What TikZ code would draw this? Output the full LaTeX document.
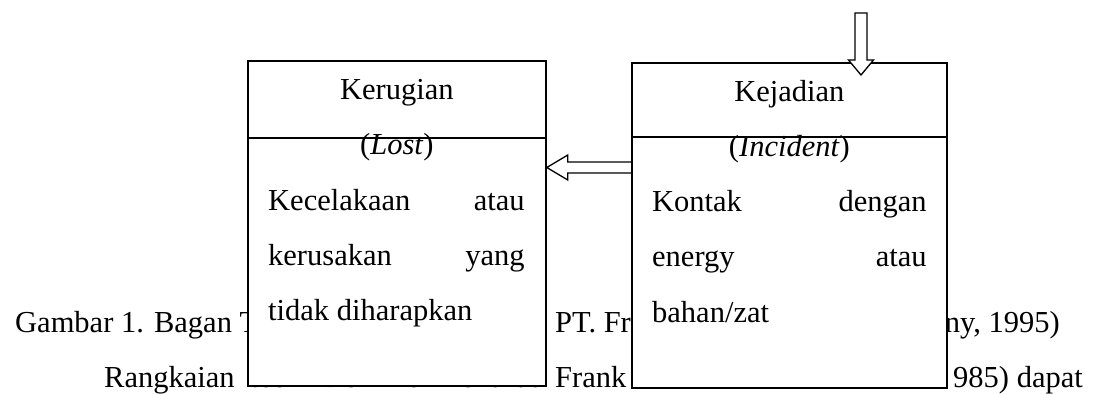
\documentclass[tikz,border=0pt]{standalone}
\usepackage{fontspec}
\setmainfont{Liberation Serif}
\usetikzlibrary{calc}

\tikzset{
  txt/.style={inner sep=0pt, font=\fontsize{30.5}{36}\selectfont},
  panel/.style={draw, line width=1.8pt, fill=white, inner sep=0pt, anchor=north west},
  divider/.style={line width=1.8pt},
  hollow/.style={draw, line width=1.3pt, line join=miter},
}

\begin{document}
\begin{tikzpicture}[x=1pt,y=-1pt]
\useasboundingbox (0,0) rectangle (1093,395);

% running text of the page, partly covered by the two panels
\node[txt, anchor=base west] (cap1) at (15,333) {Gambar 1. Bagan T};
\node[txt, anchor=base west] (cap2) at (555,333) {PT. Fr};
\node[txt, anchor=base east] (cap3) at (1060,333) {ny, 1995)};
\node[txt, anchor=base west] (par1) at (104,388) {Rangkaian};
\node[txt, anchor=base west] (par2) at (250,388) {teori};
\node[txt, anchor=base west] (par3) at (321.5,388) {Domino};
\node[txt, anchor=base west] (par4) at (437,388) {menurut};
\node[txt, anchor=base west] (par5) at (555,388) {Frank};
\node[txt, anchor=base east] (par6) at (1083,388) {985) dapat};

% the two panels
\node[panel, minimum width=298pt, minimum height=325pt] (loss) at (247,60) {};
\node[panel, minimum width=315pt, minimum height=325pt] (inc) at (631,62) {};
\draw[divider] ($(loss.north west)+(0,78)$) -- ($(loss.north east)+(0,78)$);
\draw[divider] ($(inc.north west)+(0,75)$) -- ($(inc.north east)+(0,75)$);

% panel headings
\node[txt, anchor=base] (lossT) at ($(loss.north)+(0,40)$) {Kerugian};
\node[txt, anchor=base] (lossS) at ($(loss.north)+(0,95)$) {(\textit{Lost})};
\node[txt, anchor=base] (incT) at ($(inc.north)+(0,40)$) {Kejadian};
\node[txt, anchor=base] (incS) at ($(inc.north)+(0,95)$) {(\textit{Incident})};

% panel bodies (justified lines)
\node[txt, anchor=base west] (l1a) at ($(loss.north west)+(21,151)$) {Kecelakaan};
\node[txt, anchor=base east] (l1b) at ($(loss.north east)+(-22,151)$) {atau};
\node[txt, anchor=base west] (l2a) at ($(loss.north west)+(21,206)$) {kerusakan};
\node[txt, anchor=base east] (l2b) at ($(loss.north east)+(-22,206)$) {yang};
\node[txt, anchor=base west] (l3) at ($(loss.north west)+(21,261)$) {tidak diharapkan};

\node[txt, anchor=base west] (r1a) at ($(inc.north west)+(21,150)$) {Kontak};
\node[txt, anchor=base east] (r1b) at ($(inc.north east)+(-21,150)$) {dengan};
\node[txt, anchor=base west] (r2a) at ($(inc.north west)+(21,205)$) {energy};
\node[txt, anchor=base east] (r2b) at ($(inc.north east)+(-21,205)$) {atau};
\node[txt, anchor=base west] (r3) at ($(inc.north west)+(21,261)$) {bahan/zat};

% hollow arrow from Kejadian to Kerugian
\coordinate (lfrom) at ($(inc.north west)+(0,105.5)$);
\coordinate (lto) at (loss.east |- lfrom);
\draw[hollow] ($(lfrom)+(0,-5.5)$) -- ($(lto)+(21,-5.5)$) -- ($(lto)+(21,-12.5)$)
  -- (lto) -- ($(lto)+(21,12.5)$) -- ($(lto)+(21,5.5)$) -- ($(lfrom)+(0,5.5)$);

% hollow arrow entering Kejadian from above
\coordinate (dtip) at ($(inc.north west)+(230,13)$);
\coordinate (dfrom) at ($(dtip)+(0,-62)$);
\draw[hollow, fill=white] ($(dfrom)+(-6,0)$) -- ($(dtip)+(-6,-15)$) -- ($(dtip)+(-12.5,-15)$)
  -- (dtip) -- ($(dtip)+(12.5,-15)$) -- ($(dtip)+(6,-15)$) -- ($(dfrom)+(6,0)$) -- cycle;
\end{tikzpicture}
\end{document}
